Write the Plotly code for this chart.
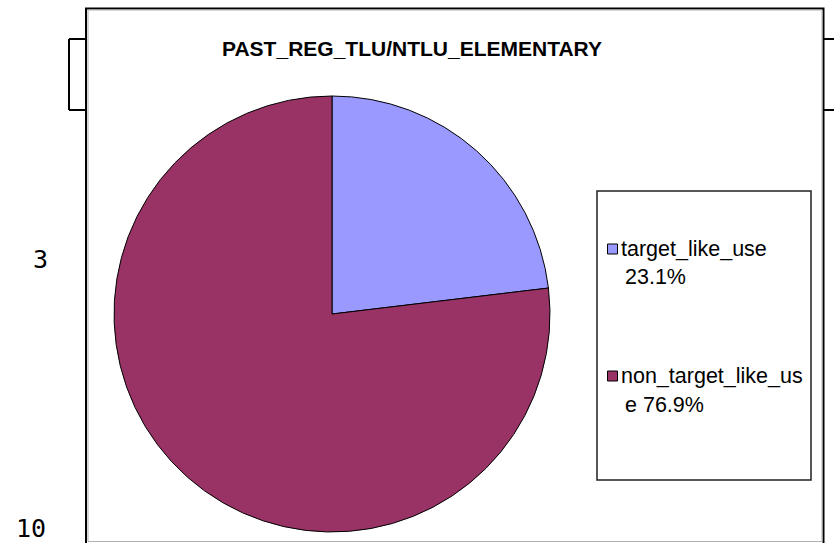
import plotly.graph_objects as go

# ---- data ----
title_text = "PAST_REG_TLU/NTLU_ELEMENTARY"
categories = ["target_like_use", "non_target_like_use"]
shares = [23.1, 76.9]
slice_colors = ["#9999FF", "#993366"]
side_numbers = ["3", "10"]

W, H = 834, 543


def px(x):
    return x / W


def py(y):
    return 1 - y / H


def wrap(text, width):
    lines = []
    while len(text) > width:
        cut = text.rfind(" ", 0, width + 1)
        if cut <= 0:
            lines.append(text[:width])
            text = text[width:]
        else:
            lines.append(text[:cut])
            text = text[cut + 1:]
    lines.append(text)
    return lines


# pie geometry (pixels)
cx, cy, r = 332, 314, 218

fig = go.Figure()
fig.add_trace(go.Pie(
    labels=categories,
    values=shares,
    sort=False,
    direction="clockwise",
    rotation=0,
    marker=dict(colors=slice_colors, line=dict(color="#000000", width=1)),
    textinfo="none",
    hoverinfo="label+percent",
    showlegend=False,
    domain=dict(x=[px(cx - r), px(cx + r)], y=[py(cy + r), py(cy - r)]),
))

shapes = []
annotations = []

# box behind the chart area
for (xa, xb) in [(69, 86), (823, 834)]:
    for yy in (39, 110):
        shapes.append(dict(type="line", xref="paper", yref="paper",
                           x0=px(xa), x1=px(xb), y0=py(yy), y1=py(yy),
                           line=dict(color="#000000", width=2)))
shapes.append(dict(type="line", xref="paper", yref="paper",
                   x0=px(69), x1=px(69), y0=py(39), y1=py(110),
                   line=dict(color="#000000", width=2)))

# chart frame
shapes.append(dict(type="rect", xref="paper", yref="paper",
                   x0=px(86), x1=px(823.5), y0=py(545), y1=py(8.5),
                   line=dict(color="#000000", width=2), fillcolor="#FFFFFF",
                   layer="below"))
shapes.append(dict(type="rect", xref="paper", yref="paper",
                   x0=px(88), x1=px(822), y0=py(541.5), y1=py(10),
                   line=dict(color="#B0B0B0", width=1), layer="below"))

# legend box
shapes.append(dict(type="rect", xref="paper", yref="paper",
                   x0=px(597), x1=px(811), y0=py(480), y1=py(191),
                   line=dict(color="#202020", width=1.5)))

legend_rows = [(249, 277), (376, 405)]
for i, (name, share, col) in enumerate(zip(categories, shares, slice_colors)):
    y1, y2 = legend_rows[i]
    shapes.append(dict(type="rect", xref="paper", yref="paper",
                       x0=px(607.5), x1=px(617.5), y0=py(y1 + 5), y1=py(y1 - 5),
                       line=dict(color="#000000", width=1), fillcolor=col))
    lines = wrap(f"{name} {share:.1f}%", 18)
    for j, line in enumerate(lines):
        yy = y1 if j == 0 else y2
        xx = 619 if j == 0 else 623
        annotations.append(dict(xref="paper", yref="paper", x=px(xx), y=py(yy),
                                text=line, showarrow=False, xanchor="left",
                                yanchor="middle",
                                font=dict(family="Liberation Sans, Arial", size=21.5,
                                          color="#000000")))

# title
annotations.append(dict(xref="paper", yref="paper", x=px(412), y=py(48),
                        text=f"<b>{title_text}</b>", showarrow=False,
                        xanchor="center", yanchor="middle",
                        font=dict(family="Liberation Sans, Arial", size=21,
                                  color="#000000")))

# side numbers
for txt, (xx, yy) in zip(side_numbers, [(40, 259), (31, 528)]):
    annotations.append(dict(xref="paper", yref="paper", x=px(xx), y=py(yy),
                            text=txt, showarrow=False, xanchor="center",
                            yanchor="middle",
                            font=dict(family="DejaVu Sans Mono", size=25,
                                      color="#000000")))

fig.update_layout(
    width=W, height=H,
    margin=dict(l=0, r=0, t=0, b=0),
    paper_bgcolor="#FFFFFF",
    plot_bgcolor="#FFFFFF",
    shapes=shapes,
    annotations=annotations,
)

fig.write_html("out.html")
